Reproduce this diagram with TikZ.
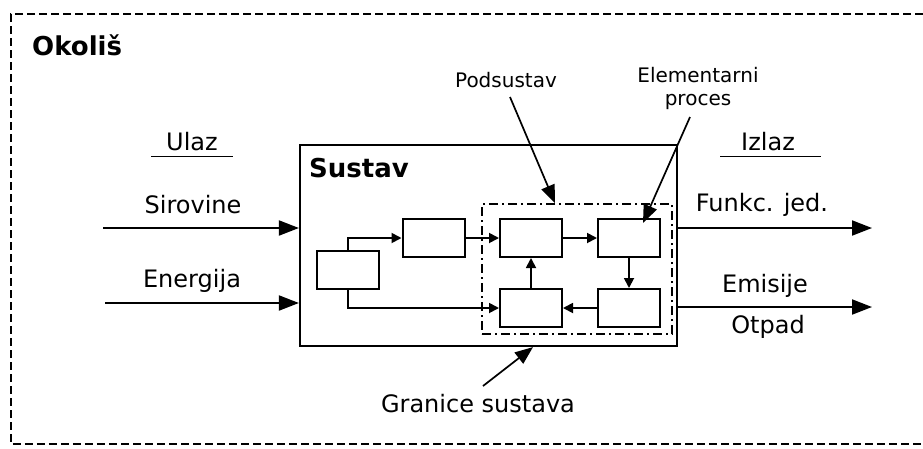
\documentclass[tikz,border=0pt]{standalone}
\usepackage{fontspec}
\setmainfont{DejaVu Sans}
\usepackage{tikz}
\usetikzlibrary{arrows.meta, positioning, calc}
\tikzset{
  procbox/.style={rectangle, draw, line width=2pt,
    minimum width=62pt, minimum height=38pt, inner sep=0pt},
  bigarrow/.style={-{Triangle[length=20pt,width=15pt]}, line width=2pt},
  smallarrow/.style={-{Triangle[length=10pt,width=10pt]}, line width=1.8pt},
  callout/.style={-{Triangle[length=18pt,width=14pt]}, line width=1.7pt},
  lbl/.style={font=\fontsize{24}{28}\selectfont, inner sep=0pt},
  smalllbl/.style={font=\fontsize{20}{23}\selectfont, inner sep=0pt, align=center},
  headlbl/.style={font=\fontsize{26}{30}\selectfont\bfseries, inner sep=0pt}
}

\begin{document}
\begin{tikzpicture}[x=1pt, y=-1pt]
  \useasboundingbox (0,0) rectangle (923,448);

  % Okolis border (open on the right)
  \draw[line width=1.8pt, dash pattern=on 8pt off 4pt] (923,14) -- (11,14) -- (11,444) -- (923,444);
  \node[headlbl, anchor=west] (okolis) at (32,45) {Okoliš};

  % Sustav and Podsustav frames
  \node[rectangle, draw, line width=2.2pt, minimum width=377pt, minimum height=201pt] (sustav) at (488.5,245.5) {};
  \node[headlbl, anchor=west] (sustavlbl) at (309,168) {Sustav};
  \node[rectangle, draw, line width=1.8pt, dash pattern=on 9pt off 4pt on 2pt off 4pt,
    minimum width=190pt, minimum height=130pt] (podsustav) at (577,269) {};

  % Processes
  \node[procbox] (pa) at (348,269.5) {};
  \node[procbox] (pb) at (433.5,238) {};
  \node[procbox] (pc) at (531,238) {};
  \node[procbox] (pd) at (629,238) {};
  \node[procbox] (pe) at (531,308) {};
  \node[procbox] (pf) at (629,308) {};

  % Flows between processes
  \draw[smallarrow] (pa.north) |- (pb.west);
  \draw[smallarrow] (pa.south) |- (pe.west);
  \draw[smallarrow] (pb) -- (pc);
  \draw[smallarrow] (pc) -- (pd);
  \draw[smallarrow] (pd) -- (pf);
  \draw[smallarrow] (pf) -- (pe);
  \draw[smallarrow] (pe) -- (pc);

  % Ulaz side
  \node[lbl] (ulaz) at (192,142) {Ulaz};
  \draw[line width=1.8pt] ($(ulaz.south)+(-41,5)$) -- ($(ulaz.south)+(41,5)$);
  \node[lbl] (sirovine) at (193,205) {Sirovine};
  \node[lbl] (energija) at (192,281) {Energija};
  \coordinate (in1) at (103,228);
  \coordinate (in2) at (105,303);
  \draw[bigarrow] (in1) -- (sustav.west |- in1);
  \draw[bigarrow] (in2) -- (sustav.west |- in2);

  % Izlaz side
  \node[lbl] (izlaz) at (768,142) {Izlaz};
  \draw[line width=1.8pt] ($(izlaz.south)+(-48,5)$) -- ($(izlaz.south)+(53,5)$);
  \node[lbl] (funkc) at (762,205) {Funkc. jed.};
  \node[lbl] (emisije) at (765,286) {Emisije};
  \node[lbl] (otpad) at (768,327) {Otpad};
  \coordinate (out1) at (872,228);
  \coordinate (out2) at (872,307);
  \draw[bigarrow] (sustav.east |- out1) -- (out1);
  \draw[bigarrow] (sustav.east |- out2) -- (out2);

  % Callouts
  \node[smalllbl] (podlbl) at (506,80) {Podsustav};
  \draw[callout] (510,97) -- (podsustav.north -| 555,0);
  \node[smalllbl] (elemlbl) at (698,88) {Elementarni\\proces};
  \draw[callout] (690,117) -- (643,223);
  \node[lbl] (granlbl) at (478,404) {Granice sustava};
  \draw[callout] (483,386) -- (sustav.south -| 533,0);
\end{tikzpicture}
\end{document}
